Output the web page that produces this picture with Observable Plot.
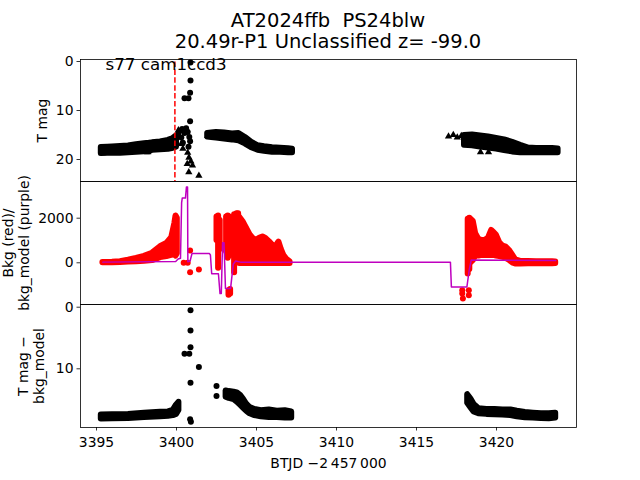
<!DOCTYPE html>
<html><head><meta charset="utf-8">
<script src="https://cdn.jsdelivr.net/npm/d3@7"></script>
<script src="https://cdn.jsdelivr.net/npm/@observablehq/plot@0.6"></script>
<style>
body{margin:0;background:#fff;}
#fig{position:relative;width:640px;height:480px;font-family:"DejaVu Sans",sans-serif;overflow:hidden;}
#fig svg{position:absolute;left:0;top:0;}
.title{position:absolute;left:0;width:656px;top:10px;text-align:center;font-size:19.5px;line-height:21px;color:#000;white-space:pre;}
</style></head><body>
<div id="fig"><div class="title">AT2024ffb  PS24blw
20.49r-P1 Unclassified z= -99.0</div></div>
<script>
// ---------- data ----------
const xDomain = [3394, 3425];
const xTicks = [3395, 3400, 3405, 3410, 3415, 3420];
const magTicks = [0, 10, 20];
const bkgTicks = [0, 2000];
const diffTicks = [0, 10];
const discoveryDate = 3399.9;
const sectorLabel = "s77 cam1ccd3";

// Panel 1: T mag  — dense bands [time, brightest, faintest]
const magBandLeft = [
  [3395.3, 17.55, 18.8], [3395.7, 17.5, 18.75], [3396.0, 17.45, 18.7], [3396.5, 17.35, 18.7],
  [3397.0, 17.25, 18.6], [3397.5, 17.0, 18.5], [3398.0, 16.8, 18.4], [3398.3, 16.7, 18.4],
  [3398.5, 16.6, 18.1], [3399.0, 16.4, 18.0], [3399.5, 16.1, 17.9], [3399.8, 15.7, 17.7],
  [3400.0, 15.2, 17.5]
];
const magBandMid = [
  [3401.95, 14.7, 15.4], [3402.2, 14.6, 15.5], [3402.5, 14.5, 15.6], [3403.0, 14.6, 15.8],
  [3403.5, 14.8, 16.0], [3403.9, 14.7, 16.2], [3404.3, 15.5, 16.8], [3404.7, 16.5, 17.6],
  [3405.1, 17.2, 18.1], [3405.5, 17.4, 18.3], [3406.0, 17.6, 18.5], [3406.5, 17.7, 18.5],
  [3407.0, 17.8, 18.6], [3407.25, 17.9, 18.6]
];
const magBandRight = [
  [3418.0, 15.1, 17.1], [3418.5, 15.0, 17.2], [3419.0, 15.2, 17.45], [3419.5, 15.4, 17.65],
  [3420.0, 15.7, 17.85], [3420.5, 16.0, 18.15], [3421.0, 16.5, 18.45], [3421.5, 17.1, 18.6],
  [3422.0, 17.65, 18.6], [3422.5, 17.75, 18.6], [3423.0, 17.75, 18.6], [3423.5, 17.75, 18.6],
  [3423.85, 17.85, 18.6]
];
const magPoints = [
  [3400.875, 0.2], [3400.875, 3.9], [3400.85, 6.4], [3400.5, 7.5], [3400.75, 7.5], [3400.85, 12.2],
  [3400.1, 14.8], [3400.2, 14.2], [3400.3, 15.5], [3400.35, 13.8], [3400.4, 16.6], [3400.5, 14.6],
  [3400.6, 13.6], [3400.7, 14.4], [3400.8, 15.4], [3400.85, 16.3], [3400.75, 17.4]
];
const magLimits = [
  [3395.35, 18.7], [3395.6, 18.6], [3398.2, 18.5],
  [3400.12, 14.0], [3400.3, 16.8], [3400.4, 17.8], [3400.65, 13.9], [3400.7, 18.6], [3400.78, 19.6],
  [3400.9, 20.4], [3401.0, 21.2], [3400.67, 20.9], [3400.77, 22.6], [3401.4, 23.3],
  [3401.95, 15.2], [3402.1, 14.9],
  [3417.0, 15.3], [3417.3, 15.0], [3417.55, 15.5], [3417.8, 15.2], [3419.0, 18.5], [3419.5, 18.5]
];

// Panel 2: background flux (red) and background model (purple)
const bkgBandLeft = [
  [3395.4, 0, 10], [3396.0, 0, 20], [3396.5, 10, 50], [3397.0, 30, 120], [3397.5, 50, 200],
  [3398.0, 70, 290], [3398.5, 100, 430], [3399.0, 230, 720], [3399.4, 280, 870],
  [3399.7, 330, 1120], [3399.9, 380, 1770], [3399.97, 300, 2100], [3400.05, 400, 2000]
];
const bkgBandMain = [
  [3403.95, -30, 2040], [3404.15, -30, 1850], [3404.3, -30, 1650], [3404.45, -30, 1450],
  [3404.6, -30, 1250], [3404.8, -30, 1080], [3405.0, -30, 1000], [3405.2, -30, 1100],
  [3405.4, -30, 1160], [3405.6, -30, 1080], [3405.8, -30, 950], [3406.0, -30, 800],
  [3406.2, -30, 700], [3406.4, -30, 930], [3406.55, -30, 600], [3406.7, -30, 340],
  [3406.9, -30, 150], [3407.1, -30, 40]
];
const bkgBandRight = [
  [3418.4, 0, 1950], [3418.55, 100, 1850], [3418.7, 300, 1300], [3418.9, 300, 1050],
  [3419.1, 330, 1000], [3419.3, 330, 1010], [3419.5, 330, 1100], [3419.7, 330, 1450],
  [3419.85, 330, 1350], [3420.0, 300, 1230], [3420.2, 280, 900], [3420.4, 250, 750],
  [3420.6, 200, 700], [3420.8, 120, 560], [3421.0, 0, 350], [3421.2, -50, 130],
  [3421.5, -50, 60], [3422.0, -40, 60], [3422.5, -40, 50], [3423.0, -40, 50],
  [3423.5, -40, 50], [3423.7, -30, 40]
];
const bkgColumns = [
  [3402.5, 1000, 2050], [3402.6, -250, 2100], [3402.7, 600, 1900],
  [3403.1, 500, 2050], [3403.2, 200, 2100], [3403.3, 300, 2050],
  [3403.25, -1450, -1250], [3403.35, -1400, -1200],
  [3403.6, -450, 2150], [3403.75, 0, 2200], [3403.85, 100, 2200],
  [3418.2, -500, 1950], [3418.3, -300, 2000]
];
const bkgPoints = [
  [3400.45, 0], [3400.7, 0], [3400.85, 550], [3400.85, -420], [3401.4, -300],
  [3417.86, -1230], [3417.86, -1375], [3417.9, -1600], [3418.27, -1230], [3418.27, -1450]
];
const bkgModel = [
  [3395.4, 30], [3399.95, 60], [3400.1, 170], [3400.25, 200], [3400.32, 2700], [3400.36, 2900],
  [3400.56, 2900], [3400.62, 3400], [3400.69, 3400], [3400.71, 50], [3400.85, 80], [3400.97, 420],
  [3402.05, 420], [3402.12, 350], [3402.2, -490], [3402.62, -490], [3402.72, -1380], [3402.8, -1380],
  [3402.88, 900], [3402.97, 900], [3403.06, -1150], [3403.38, -1150], [3403.55, -50], [3403.7, 80],
  [3404.0, 30], [3417.12, 30], [3417.18, -1080], [3418.15, -1080], [3418.3, -300], [3418.42, 120],
  [3423.7, 100]
];

// Panel 3: T mag − bkg_model
const diffBandLeft = [
  [3395.3, 17.5, 18.15], [3396.0, 17.45, 18.1], [3397.0, 17.4, 18.05], [3398.0, 17.2, 17.9],
  [3399.0, 17.05, 17.8], [3399.5, 17.0, 17.7], [3399.8, 16.75, 17.6], [3400.0, 15.9, 17.4],
  [3400.15, 15.45, 16.75]
];
const diffBandMid = [
  [3403.1, 13.6, 14.6], [3403.3, 13.7, 14.8], [3403.6, 13.8, 15.0], [3403.8, 13.9, 15.4],
  [3404.0, 14.3, 15.9], [3404.2, 15.0, 16.4], [3404.4, 15.8, 16.9], [3404.6, 16.3, 17.3],
  [3404.9, 16.6, 17.6], [3405.3, 16.8, 17.8], [3405.8, 16.7, 17.9], [3406.3, 16.9, 17.9],
  [3406.8, 16.8, 18.0], [3407.2, 17.0, 18.0]
];
const diffBandRight = [
  [3418.2, 14.2, 15.6], [3418.4, 14.9, 16.3], [3418.6, 15.8, 17.0], [3418.9, 16.5, 17.3],
  [3419.4, 16.6, 17.4], [3419.9, 16.6, 17.45], [3420.4, 16.7, 17.5], [3420.9, 16.7, 17.6],
  [3421.3, 16.9, 17.8], [3421.8, 17.1, 17.95], [3422.3, 17.2, 18.0], [3422.8, 17.3, 18.05],
  [3423.3, 17.3, 18.1], [3423.7, 17.2, 18.0]
];
const diffPoints = [
  [3400.875, 0.5], [3400.875, 3.8], [3400.875, 6.5], [3400.5, 7.55], [3400.8, 7.55], [3401.4, 9.7],
  [3400.875, 12.25], [3400.85, 18.2], [3400.9, 18.6], [3402.5, 12.8], [3402.5, 14.4]
];

// ---------- drawing ----------
const FONT = "DejaVu Sans";
const style = {background: "transparent", fontFamily: FONT, fontSize: "13.9px", color: "black", overflow: "visible"};
const X = d => d[0], Y = d => d[1], Y2 = d => d[2];

function band(data, color) {
  return Plot.areaY(data, {x: X, y1: Y, y2: Y2, fill: color, stroke: color, strokeWidth: 6,
    strokeLinejoin: "round", strokeLinecap: "round"});
}
function columns(data, color) {
  return Plot.ruleX(data, {x: X, y1: Y, y2: Y2, stroke: color, strokeWidth: 6, strokeLinecap: "round"});
}
function yAxis(ticks) {
  return Plot.axisY({ticks, tickFormat: "d", tickSize: 3.5, tickPadding: 3.5, fontSize: 13.9, label: null, strokeWidth: 0.8});
}
function yLabel(text, dx) {
  return Plot.text([text], {text: d => d, frameAnchor: "left", dx, rotate: -90, fontSize: 13.9,
    textAnchor: "middle", lineAnchor: "middle", lineHeight: 1.2, fill: "black"});
}
const frame = Plot.frame({stroke: "black", strokeWidth: 0.8});

const p1 = Plot.plot({
  width: 640, height: 480, marginLeft: 80, marginRight: 64, marginTop: 59, marginBottom: 299, style,
  x: {domain: xDomain, axis: null},
  y: {domain: [-0.41, 24.49], reverse: true},
  marks: [
    band(magBandLeft, "black"), band(magBandMid, "black"), band(magBandRight, "black"),
    Plot.dot(magPoints, {x: X, y: Y, r: 3, fill: "black"}),
    Plot.dot(magLimits, {x: X, y: Y, r: 2.7, symbol: "triangle", fill: "black"}),
    Plot.ruleX([discoveryDate], {x: d => d, y1: 0.1, y2: 24.49, stroke: "red", strokeWidth: 1.5, strokeDasharray: "5.5,2.4"}),
    Plot.text([sectorLabel], {text: d => d, frameAnchor: "top-left", dx: 25, dy: -1, lineAnchor: "top",
      textAnchor: "start", fontSize: 16.7, fill: "black"}),
    yAxis(magTicks), yLabel("T mag", -39), frame
  ]
});

const p2 = Plot.plot({
  width: 640, height: 480, marginLeft: 80, marginRight: 64, marginTop: 181, marginBottom: 176, style,
  x: {domain: xDomain, axis: null},
  y: {domain: [-1870, 3645]},
  marks: [
    band(bkgBandLeft, "red"), band(bkgBandMain, "red"), band(bkgBandRight, "red"),
    columns(bkgColumns, "red"),
    Plot.dot(bkgPoints, {x: X, y: Y, r: 3, fill: "red"}),
    Plot.line(bkgModel, {x: X, y: Y, stroke: "#bf00bf", strokeWidth: 1.5}),
    yAxis(bkgTicks), yLabel("Bkg (red)/\nbkg_model (purple)", -65), frame
  ]
});

const p3 = Plot.plot({
  width: 640, height: 480, marginLeft: 80, marginRight: 64, marginTop: 304, marginBottom: 53, style,
  x: {domain: xDomain},
  y: {domain: [-0.44, 19.53], reverse: true},
  marks: [
    band(diffBandLeft, "black"), band(diffBandMid, "black"), band(diffBandRight, "black"),
    Plot.dot(diffPoints, {x: X, y: Y, r: 3, fill: "black"}),
    yAxis(diffTicks), yLabel("T mag \u2212\nbkg_model", -50),
    Plot.axisX({ticks: xTicks, tickFormat: "d", tickSize: 3.5, tickPadding: 6, fontSize: 13.9, label: null, strokeWidth: 0.8}),
    Plot.text(["BTJD \u22122\u2009457\u2009000"], {text: d => d, frameAnchor: "bottom", dy: 36.5, lineAnchor: "middle",
      textAnchor: "middle", fontSize: 13.9, fill: "black"}),
    frame
  ]
});

const fig = document.getElementById("fig");
fig.append(p1, p2, p3);
</script>
</body></html>
